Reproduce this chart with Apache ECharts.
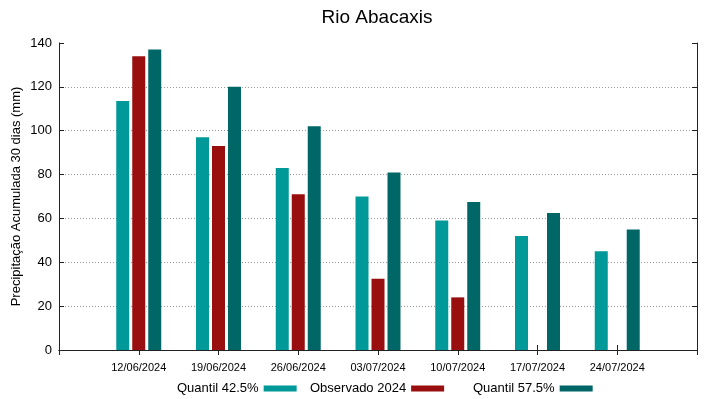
<!DOCTYPE html>
<html>
<head>
<meta charset="utf-8">
<script src="https://cdn.jsdelivr.net/npm/echarts@6/dist/echarts.min.js"></script>
<style>
  html, body { margin: 0; padding: 0; background: #fff; }
  #main { width: 719px; height: 399px; }
</style>
</head>
<body>
<div id="main"></div>
<script>
// datas (semanas) e valores
const dates = ['12/06/2024', '19/06/2024', '26/06/2024', '03/07/2024', '10/07/2024', '17/07/2024', '24/07/2024'];
const quantil425 = [113.5, 97, 83, 70, 59, 52, 45];
const observado = [134, 93, 71, 32.5, 24, null, null];
const quantil575 = [137, 120, 102, 81, 67.5, 62.5, 55];
const yTicks = [0, 20, 40, 60, 80, 100, 120, 140];
const seriesNames = ['Quantil 42.5%', 'Observado 2024', 'Quantil 57.5%'];

// uma categoria vazia em cada ponta, como no gráfico original
const pad = arr => [null].concat(arr, [null]);
const categories = [''].concat(dates, ['']);

const chart = echarts.init(document.getElementById('main'));
const font = 'Liberation Sans';

// legenda em colunas (estilo gnuplot): uma legenda por série
const legendLeft = [172, 305, 468];
const legends = seriesNames.map((name, i) => ({
  left: legendLeft[i],
  top: 377,
  align: 'right',
  icon: 'rect',
  itemWidth: 33,
  itemHeight: 6,
  textStyle: { fontSize: 13, color: '#000', fontFamily: font },
  data: [name]
}));

const option = {
  animation: false,
  textStyle: { fontFamily: font },
  title: {
    text: 'Rio Abacaxis',
    left: 372,
    top: 3,
    textAlign: 'center',
    textStyle: { fontSize: 19, fontWeight: 'normal', color: '#000', fontFamily: font }
  },
  legend: legends,
  grid: { left: 59, right: 22, top: 43, bottom: 49, outerBoundsMode: 'none' },
  xAxis: [
    {
      type: 'category',
      data: categories,
      boundaryGap: false,
      axisLine: { lineStyle: { color: '#222' } },
      axisTick: { inside: true, length: 5, interval: 0, lineStyle: { color: '#222' } },
      axisLabel: { interval: 0, fontSize: 11, color: '#000', margin: 12, fontFamily: font },
      splitLine: { show: false }
    },
    {
      type: 'category',
      data: categories,
      boundaryGap: false,
      position: 'top',
      axisLine: { lineStyle: { color: '#222' } },
      axisTick: { inside: true, length: 5, interval: 0, lineStyle: { color: '#222' } },
      axisLabel: { show: false },
      splitLine: { show: false }
    }
  ],
  yAxis: [
    {
      type: 'value',
      min: yTicks[0],
      max: yTicks[yTicks.length - 1],
      interval: 20,
      name: 'Precipitação Acumulada 30 dias (mm)',
      nameLocation: 'middle',
      nameGap: 36,
      nameMoveOverlap: false,
      nameTextStyle: { fontSize: 13, color: '#000', fontFamily: font },
      axisLine: { show: true, lineStyle: { color: '#222' } },
      axisTick: { show: true, inside: true, length: 5, lineStyle: { color: '#222' } },
      axisLabel: { fontSize: 13, color: '#000', margin: 7, fontFamily: font },
      splitLine: { show: true, showMinLine: false, showMaxLine: false, lineStyle: { color: '#999', type: [1, 2] } }
    },
    {
      type: 'value',
      min: yTicks[0],
      max: yTicks[yTicks.length - 1],
      interval: 20,
      position: 'right',
      axisLine: { show: true, lineStyle: { color: '#222' } },
      axisTick: { show: true, inside: true, length: 5, lineStyle: { color: '#222' } },
      axisLabel: { show: false },
      splitLine: { show: false }
    }
  ],
  series: [
    {
      name: seriesNames[0],
      type: 'bar',
      data: pad(quantil425),
      barWidth: 13,
      barGap: '23%',
      itemStyle: { color: '#009999' }
    },
    {
      name: seriesNames[1],
      type: 'bar',
      data: pad(observado),
      barWidth: 13,
      barGap: '23%',
      itemStyle: { color: '#990e0e' }
    },
    {
      name: seriesNames[2],
      type: 'bar',
      data: pad(quantil575),
      barWidth: 13,
      barGap: '23%',
      itemStyle: { color: '#006666' }
    }
  ]
};

chart.setOption(option);
</script>
</body>
</html>
